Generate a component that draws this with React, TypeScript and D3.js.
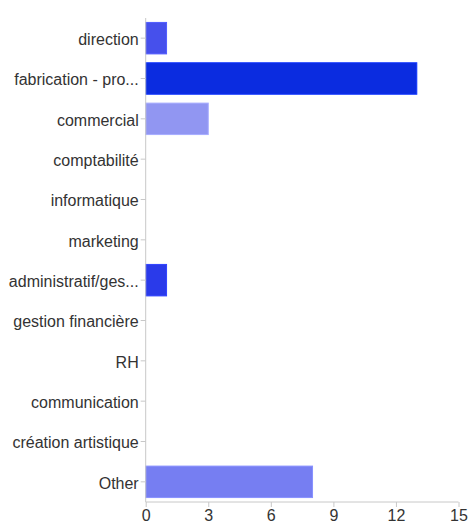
import React, { useEffect, useRef } from "react";
import * as d3 from "d3";

const categories = [
  "direction",
  "fabrication - pro...",
  "commercial",
  "comptabilité",
  "informatique",
  "marketing",
  "administratif/ges...",
  "gestion financière",
  "RH",
  "communication",
  "création artistique",
  "Other",
];
const values = [1, 13, 3, 0, 0, 0, 1, 0, 0, 0, 0, 8];
const colors = [
  "#4650ec", "#0b2ce0", "#9196f2", "#5a60ee", "#5a60ee", "#5a60ee",
  "#2a3aea", "#5a60ee", "#5a60ee", "#5a60ee", "#5a60ee", "#767ef2",
];
const xTicks = [0, 3, 6, 9, 12, 15];

export default function App() {
  const ref = useRef<SVGSVGElement>(null);
  useEffect(() => {
    const svg = d3.select(ref.current);
    svg.selectAll("*").remove();
    const W = 469, H = 521;
    const left = 145.7, right = 458.5, top = 18, bottom = 502;
    const x = d3.scaleLinear().domain([0, 15]).range([left, right]);
    const y = d3.scaleBand().domain(categories).range([top, bottom]).paddingInner(0.22).paddingOuter(0.11);
    const font = "'Liberation Sans', Arial, Helvetica, sans-serif";
    const axisColor = "#c8c8c8";

    svg.attr("width", W).attr("height", H);

    // bars
    svg.append("g").selectAll("rect").data(categories).join("rect")
      .attr("x", x(0))
      .attr("y", (d) => y(d)!)
      .attr("width", (d, i) => Math.max(0, x(values[i]) - x(0)))
      .attr("height", y.bandwidth())
      .attr("fill", (d, i) => colors[i])
      .attr("stroke", (d, i) => d3.color(colors[i])!.brighter(0.4).formatHex())
      .attr("stroke-width", 1)
      .attr("display", (d, i) => (values[i] > 0 ? null : "none"));

    // y axis
    const yAxis = d3.axisLeft(y).tickSize(5).tickPadding(2);
    const gy = svg.append("g").attr("transform", `translate(${x(0)},0)`).call(yAxis);
    gy.select(".domain").remove();
    gy.selectAll(".tick line").attr("stroke", axisColor);
    gy.selectAll(".tick text").attr("fill", "#333").attr("font-size", 16).attr("font-family", font)
      .attr("dy", "0.42em");
    svg.append("line").attr("x1", x(0)).attr("x2", x(0)).attr("y1", top).attr("y2", bottom)
      .attr("stroke", axisColor);

    // x axis
    const xAxis = d3.axisBottom(x).tickValues(xTicks).tickSize(5).tickPadding(3).tickFormat(d3.format("d"));
    const gx = svg.append("g").attr("transform", `translate(0,${bottom})`).call(xAxis);
    gx.select(".domain").attr("stroke", axisColor).attr("d", `M${left},0H${right}`);
    gx.selectAll(".tick line").attr("stroke", axisColor);
    gx.selectAll(".tick text").attr("fill", "#333").attr("font-size", 16).attr("font-family", font);
  }, []);
  return (
    <svg ref={ref} style={{ position: "absolute", left: 0, top: 0, background: "#fff" }} />
  );
}
